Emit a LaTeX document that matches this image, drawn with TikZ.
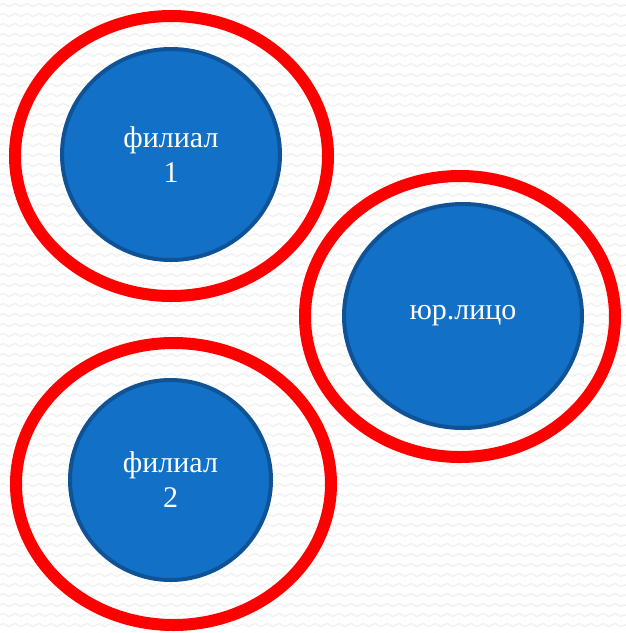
\documentclass[tikz,border=0pt]{standalone}
\usepackage{fontspec}
\setmainfont{Liberation Serif}
\usetikzlibrary{shapes.geometric,decorations.pathmorphing}
\definecolor{krasnyj}{RGB}{255,0,0}
\definecolor{sinij}{RGB}{18,112,198}
\definecolor{temnosinij}{RGB}{16,82,150}
\definecolor{fon}{RGB}{242,242,242}

\begin{document}
\begin{tikzpicture}[x=1pt,y=-1pt]
  \tikzstyle{kolco}=[ellipse, draw=krasnyj, line width=12pt, inner sep=0];
  \tikzstyle{krug}=[ellipse, draw=temnosinij, fill=sinij, line width=4pt, inner sep=0,
    text=white, align=center, font=\fontsize{30}{35}\selectfont];

  \useasboundingbox (0,0) rectangle (626,633);
  \fill[white] (0,0) rectangle (626,633);
  \foreach \y in {5,15,...,635}
    \draw[fon, line width=1.5pt, decorate, decoration={zigzag, segment length=12pt, amplitude=1.5pt}]
      (0,\y) -- (626,\y);

  \coordinate (F1) at (171.5,156);
  \coordinate (F2) at (173.5,484);
  \coordinate (U) at (460,316.5);

  \node[kolco, minimum width=313pt, minimum height=280pt] (kolcoF1) at (F1) {};
  \node[kolco, minimum width=315pt, minimum height=282pt] (kolcoF2) at (F2) {};
  \node[kolco, minimum width=310pt, minimum height=281pt] (kolcoU) at (U) {};

  \node[krug, minimum width=218pt, minimum height=211pt] (filial1) at (171,154.5) {филиал\\1};
  \node[krug, minimum width=201pt, minimum height=200pt] (filial2) at (170.5,480) {филиал\\2};
  \node[krug, minimum width=238pt, minimum height=224pt] (jurlico) at (463,316) {юр.лицо};
\end{tikzpicture}
\end{document}
